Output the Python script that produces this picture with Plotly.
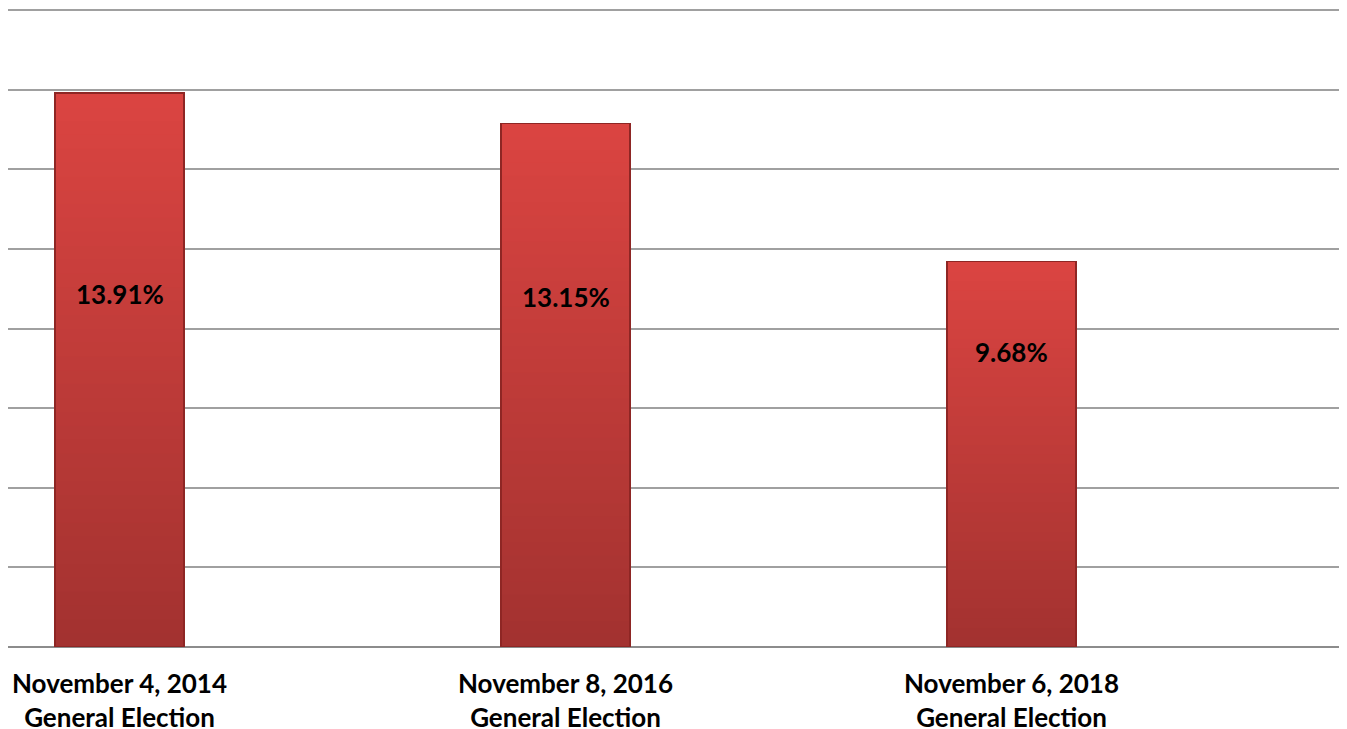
import plotly.graph_objects as go

# data
categories = [
    "November 4, 2014<br>General Election",
    "November 8, 2016<br>General Election",
    "November 6, 2018<br>General Election",
]
turnout_pct = [13.91, 13.15, 9.68]
value_labels = ["13.91%", "13.15%", "9.68%"]

# where the value labels sit inside the bars (axis units)
label_y = [8.87, 8.8, 7.42]

FONT = "Lato, Open Sans, sans-serif"
BAR_W = 0.29
X_RANGE = [-0.25, 2.75]

# vertical gradient: bottom colour -> top colour, drawn as stacked slices
BOTTOM = (163, 50, 48)
TOP = (218, 68, 65)
N_SLICES = 40

fig = go.Figure()
for k in range(N_SLICES):
    t = k / (N_SLICES - 1)
    rgb = tuple(round(b + (tp - b) * t) for b, tp in zip(BOTTOM, TOP))
    col = "rgb(%d,%d,%d)" % rgb
    fig.add_trace(
        go.Bar(
            x=categories,
            y=[v / N_SLICES for v in turnout_pct],
            width=BAR_W,
            marker=dict(color=col, line=dict(color=col, width=0.6)),
            hoverinfo="skip",
        )
    )

# outline on an overlaid axis so it wraps the whole bar
fig.add_trace(
    go.Bar(
        x=categories,
        y=turnout_pct,
        width=BAR_W,
        xaxis="x2",
        marker=dict(color="rgba(0,0,0,0)", line=dict(color="#8E2624", width=1.5)),
        hoverinfo="skip",
    )
)

for cat, y, txt in zip(categories, label_y, value_labels):
    fig.add_annotation(
        x=cat, y=y, text=f"<b>{txt}</b>", showarrow=False,
        font=dict(family=FONT, size=26, color="black"),
    )

# the page adds an 8px body margin, so the figure is sized to fit inside it
fig.update_layout(
    width=1339,
    height=721,
    margin=dict(l=0, r=1, t=0, b=82),
    barmode="stack",
    plot_bgcolor="white",
    paper_bgcolor="white",
    showlegend=False,
    font=dict(family=FONT, size=26, color="black"),
    xaxis=dict(
        type="category",
        range=X_RANGE,
        automargin=False,
        showgrid=False,
        showline=False,
        ticks="",
        ticklabelstandoff=19,
        tickfont=dict(family=FONT, size=26, color="black"),
        tickprefix="<b>",
        ticksuffix="</b>",
    ),
    xaxis2=dict(
        type="category",
        range=X_RANGE,
        overlaying="x",
        visible=False,
    ),
    yaxis=dict(
        range=[0, 16.05],
        dtick=2,
        automargin=False,
        showticklabels=False,
        showgrid=True,
        gridcolor="#A0A0A0",
        gridwidth=2,
        zeroline=True,
        zerolinecolor="#8C8C8C",
        zerolinewidth=2,
    ),
)

fig.write_html("out.html")
